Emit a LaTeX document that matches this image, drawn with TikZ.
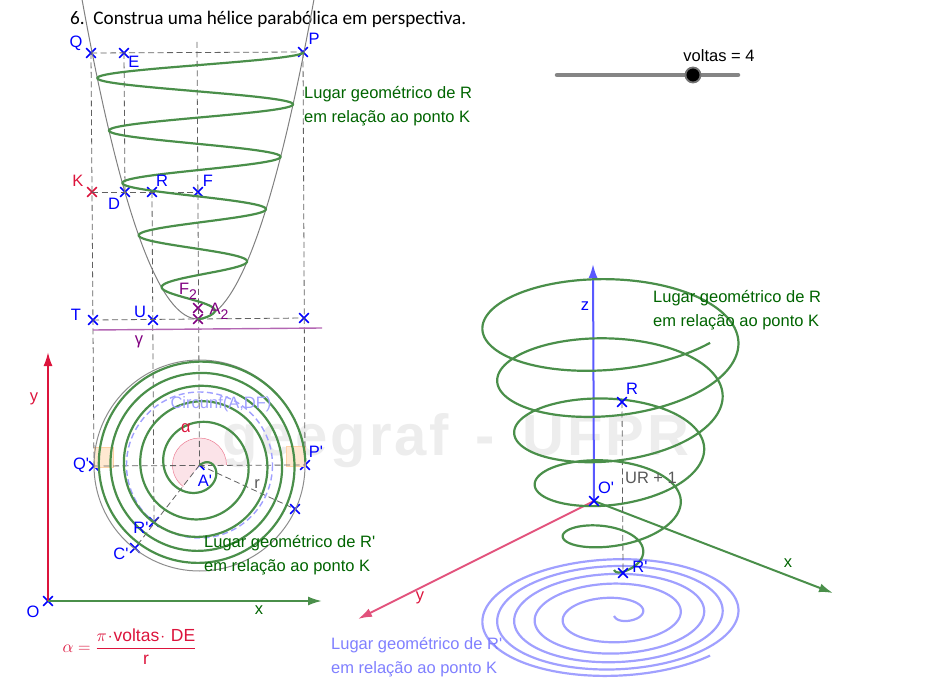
\documentclass[tikz,border=0pt]{standalone}
\usepackage{fontspec}
\setmainfont[Ligatures=TeXOff]{Liberation Sans}
\newfontfamily\titlefont{Carlito}
\newfontfamily\markfont[LetterSpace=5,BoldFont={Liberation Sans Bold}]{Liberation Sans}
\usetikzlibrary{shapes.misc,arrows.meta}

\definecolor{hgreen}{HTML}{4A8F4A}
\definecolor{tgreen}{HTML}{006400}
\definecolor{hblue}{HTML}{A0A0FF}
\definecolor{hred}{HTML}{DC143C}
\definecolor{hpink}{HTML}{E2527C}
\definecolor{hpurple}{HTML}{800080}

\tikzset{
  txt/.style={inner sep=0pt,font=\fontsize{16.5}{20}\selectfont},
  ptblue/.style={shape=cross out,draw=blue,line width=1.6pt,minimum size=8pt,inner sep=0pt},
  ptred/.style={ptblue,draw=hred},
  ptpurple/.style={ptblue,draw=hpurple},
  dash line/.style={draw=black!62,line width=.8pt,dash pattern=on 6pt off 3.5pt},
  helix/.style={draw=hgreen,line width=2.2pt,samples=700,domain=0:1,smooth},
  axis/.style={line width=2pt,-{Latex[length=14pt,width=9pt]}},
  square/.style={fill=orange!18,draw=orange!35,line width=.5pt}
}

\begin{document}
\begin{tikzpicture}[x=1pt,y=-1pt]
\useasboundingbox (0,0) rectangle (950,684);

% watermark goes below everything
\node[anchor=base west,inner sep=0pt,text=black!7] (mark) at (222,455)
  {\markfont\fontsize{58}{58}\selectfont\bfseries geegraf\hspace{7pt} -\hspace{9pt} UFPR};

\node[anchor=base west,inner sep=0pt] (title) at (70,25)
  {\titlefont\fontsize{19.2}{22}\selectfont 6.\ \ Construa uma hélice parabólica em perspectiva.};

% points of the front view and of the plan
\path[every node/.style=ptblue]
(91,53) node(Q){} (124,53) node(E){} (303,52) node(P){}
(125,192) node(D){} (152,192) node(R){} (198,192) node(F){}
(93,320) node(T){} (153,320) node(U){} (304,318) node(V){}
(94,466) node(Qp){} (199.5,465) node(Ap){} (305,465) node(Pp){}
(295,509) node(W){} (154,522) node(Rp){} (135,548) node(Cp){}
(48,601) node(O){};
\path[every node/.style=ptred] (92,192) node(K){};
\path[every node/.style=ptpurple] (198,319) node(A2){} (198,308) node(F2){};
\coordinate (top) at (197,42);

% right angles and the angle alpha
\draw[square] (94,447) rectangle (113,467);
\draw[square] (286,446) rectangle (305,466);
\fill[hred!12] (Ap.center) -- ++(27,0) arc[start angle=0,end angle=-233,radius=27] -- cycle;
\draw[hred!55,line width=.5pt] (226.5,465) arc[start angle=0,end angle=-233,radius=27];

% dashed construction lines
\draw[dash line] (Q.center) -- (P.center);
\draw[dash line] (K.center) -- (F.center);
\draw[dash line] (T.center) -- (V.center);
\draw[dash line] (Q.center) -- (Qp.center);
\draw[dash line] (E.center) -- (D.center);
\draw[dash line] (R.center) -- (Rp.center);
\draw[dash line] (top) -- (Ap.center);
\draw[dash line] (P.center) -- (Pp.center);
\draw[dash line] (Qp.center) -- (Pp.center);
\draw[dash line] (Ap.center) -- (Cp.center);
\draw[dash line] (Ap.center) -- (W.center);

% parabola and gamma
\draw[black!50,line width=1pt,domain=-116:116,samples=80,smooth]
  plot ({198+\x},{319-0.02376*\x*\x});
\draw[hpurple!60,line width=1.4pt] (93,330) coordinate(g1) -- (322,328) coordinate(g2);

% circles of the plan
\draw[black!45,line width=1pt] (199.5,465.5) circle (105.5);
\draw[hblue,line width=1.4pt,dash pattern=on 6pt off 3.5pt] (199.5,465) circle (73);

% front helix and plan spiral
\draw[helix] plot ({198+106*sqrt(\x)*cos(1831*(\x-1))},{319-267*\x});
\draw[helix] plot ({199.5+106*sqrt(\x)*cos(1831*(\x-1))},{465+106*sqrt(\x)*sin(1831*(\x-1))});

% axes of the plan
\draw[axis,draw=hred] (O.center) -- (48,352) coordinate(Oy);
\draw[axis,draw=hgreen] (O.center) -- (322,601) coordinate(Ox);

% perspective: blue spiral, green helix, axes
\path[every node/.style={shape=coordinate}] (594,501) node(Oq){} (622,402) node(Rq){} (623,573) node(Rr){};
\draw[helix,draw=hblue]
  plot ({614+106*sqrt(\x)*(.935*cos(1831*(\x-1))+.89*sin(1831*(\x-1)))},
        {616+106*sqrt(\x)*(.36*cos(1831*(\x-1))-.446*sin(1831*(\x-1)))});
\draw[axis,draw=hpink] (Oq) -- (358,619) coordinate(Oy3);
\draw[axis,draw=hgreen] (Oq) -- (833,593) coordinate(Ox3);
\draw[axis,draw=blue!65] (Oq) -- (593,264) coordinate(Oz3);
\draw[dash line] (Rq) -- (Rr);
\draw[helix]
  plot ({614+106*sqrt(\x)*(.935*cos(1831*(\x-1))+.89*sin(1831*(\x-1)))},
        {570-267*\x+106*sqrt(\x)*(.36*cos(1831*(\x-1))-.446*sin(1831*(\x-1)))});
\path[every node/.style=ptblue] (Oq) node(Oqm){} (Rq) node(Rqm){} (Rr) node(Rrm){};

% slider
\draw[black!48,line width=4.5pt,line cap=round] (557,75) coordinate(s1) -- (738,75) coordinate(s2);
\node[circle,fill=black,draw=black!55,line width=1.8pt,minimum size=15pt,inner sep=0pt] (knob) at (693,75) {};
\node[txt] (voltas) at (719,56) {voltas = 4};

% labels
\path[every node/.style={txt,text=blue}]
(76,43) node(lQ){Q} (134,62) node(lE){E} (314,39) node(lP){P}
(114,204) node(lD){D} (162,181) node(lR){R} (208,181) node(lF){F}
(76,315) node(lT){T} (140,312) node(lU){U}
(81,465) node(lQp){Q'} (316,452) node(lPp){P'} (205,481) node(lAp){A'}
(141,528) node(lRp){R'} (121,554) node(lCp){C'} (33,612) node(lO){O}
(585,306) node(lz){z} (606,488) node(lOq){O'} (632,389) node(lRq){R} (640,567) node(lRr){R'};
\path[every node/.style={txt,text=hred}]
(78,181) node(lK){K} (34,399) node(ly){y} (186,428) node(lalpha){α} (420,598) node(ly3){y};
\path[every node/.style={txt,text=tgreen}] (259,610) node(lx){x} (788,563) node(lx3){x};
\path[every node/.style={txt,text=hpurple}]
(188,291) node(lF2){F\raisebox{-5pt}{\fontsize{14}{14}\selectfont 2}}
(219,311) node(lA2){A\raisebox{-5pt}{\fontsize{14}{14}\selectfont 2}}
(139,342) node(lg){γ};
\node[txt,text=black!65] (lr) at (257,484) {r};
\node[txt,text=black!65] (lUR) at (651,478) {UR + 1};
\node[txt,text=hblue] (lC) at (221,404) {Circunf(A,DF)};

\path[every node/.style={txt,anchor=west,align=left,text=tgreen}]
(304,106) node(lug1){Lugar geométrico de R\\[4pt]em relação ao ponto K}
(653,310) node(lug2){Lugar geométrico de R\\[4pt]em relação ao ponto K}
(204,555) node(lug3){Lugar geométrico de R'\\[4pt]em relação ao ponto K};
\node[txt,anchor=west,align=left,text=blue!50] (lug4) at (331,657)
  {Lugar geométrico de R'\\[4pt]em relação ao ponto K};

% formula
\node[txt,text=hred,font=\fontsize{17.5}{20}\selectfont] (alpha) at (129.5,646.5)
  {$\displaystyle\alpha=\frac{\pi\!\cdot\!\mbox{voltas}\!\cdot\!\mbox{ DE}}{\mbox{r}}$};
\end{tikzpicture}
\end{document}
